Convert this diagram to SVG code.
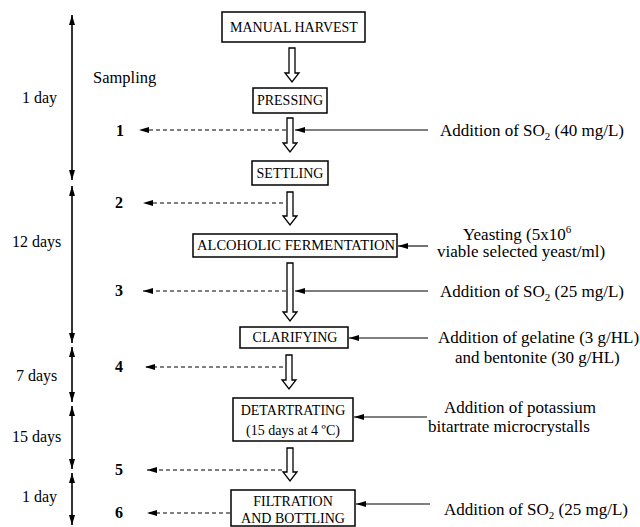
<svg xmlns="http://www.w3.org/2000/svg" width="640" height="527" viewBox="0 0 640 527" font-family="'Liberation Serif', 'DejaVu Serif', serif">
<style>
text{font-family:'Liberation Serif','DejaVu Serif',serif;fill:#000}
.lbl{font-size:16px}
.smp{font-size:16.5px}
.num{font-size:16px;font-weight:bold}
.box{fill:#fff;stroke:#000;stroke-width:1.5}
.bt{font-size:14px;text-anchor:middle}
.ba{fill:#fff;stroke:#000;stroke-width:1.3;stroke-linejoin:miter}
.tl{stroke:#000;stroke-width:1.6;fill:none}
.dash{stroke:#000;stroke-width:1;stroke-dasharray:4 3;fill:none}
.sol{stroke:#000;stroke-width:1.1;fill:none}
.rt{font-size:17px}
</style>
<defs>
<marker id="ah" viewBox="0 0 10 6" refX="10" refY="3" markerWidth="10" markerHeight="6" markerUnits="userSpaceOnUse" orient="auto">
<path d="M0,0 L10,3 L0,6 Z" fill="#000"/>
</marker>
<marker id="ta" viewBox="0 0 6 10" refX="3" refY="0" markerWidth="6" markerHeight="10" markerUnits="userSpaceOnUse" orient="0">
<path d="M0,10 L3,0 L6,10 Z" fill="#000"/>
</marker>
<marker id="tb" viewBox="0 0 6 10" refX="3" refY="10" markerWidth="6" markerHeight="10" markerUnits="userSpaceOnUse" orient="0">
<path d="M0,0 L3,10 L6,0 Z" fill="#000"/>
</marker>
</defs>

<g id="timeline">
<line class="tl" x1="72" y1="15" x2="72" y2="180" marker-start="url(#ta)" marker-end="url(#tb)"/>
<line class="tl" x1="72" y1="186" x2="72" y2="343" marker-start="url(#ta)" marker-end="url(#tb)"/>
<line class="tl" x1="72" y1="347" x2="72" y2="402" marker-start="url(#ta)" marker-end="url(#tb)"/>
<line class="tl" x1="72" y1="406" x2="72" y2="469" marker-start="url(#ta)" marker-end="url(#tb)"/>
<line class="tl" x1="72" y1="473" x2="72" y2="525" marker-start="url(#ta)" marker-end="url(#tb)"/>
<text class="lbl" x="22" y="103">1 day</text>
<text class="lbl" x="12" y="247">12 days</text>
<text class="lbl" x="16" y="381">7 days</text>
<text class="lbl" x="12" y="442">15 days</text>
<text class="lbl" x="22" y="502">1 day</text>
</g>

<g id="sampling">
<text class="smp" x="93" y="83">Sampling</text>
<text class="num" x="116" y="136">1</text>
<text class="num" x="115" y="208">2</text>
<text class="num" x="115" y="296">3</text>
<text class="num" x="115" y="372">4</text>
<text class="num" x="115" y="475">5</text>
<text class="num" x="115" y="518">6</text>
</g>

<g id="n1"><rect class="box" x="222" y="12" width="143" height="30"/><text class="bt" x="294" y="32" font-size="14.5">MANUAL HARVEST</text></g>
<g id="n2"><rect class="box" x="253" y="88" width="74" height="25"/><text class="bt" x="290" y="105">PRESSING</text></g>
<g id="n3"><rect class="box" x="252" y="161" width="76" height="24"/><text class="bt" x="290" y="178">SETTLING</text></g>
<g id="n4"><rect class="box" x="193" y="234" width="204" height="23"/><text class="bt" x="296" y="250" textLength="198" lengthAdjust="spacingAndGlyphs">ALCOHOLIC FERMENTATION</text></g>
<g id="n5"><rect class="box" x="240" y="327" width="108" height="21"/><text class="bt" x="295" y="342">CLARIFYING</text></g>
<g id="n6"><rect class="box" x="233" y="398" width="120" height="43"/><text class="bt" x="293" y="415">DETARTRATING</text><text class="bt" x="293" y="435">(15 days at 4 ºC)</text></g>
<g id="n7"><rect class="box" x="231" y="490" width="124" height="36"/><text class="bt" x="293" y="506">FILTRATION</text><text class="bt" x="293" y="523">AND BOTTLING</text></g>

<g id="connectors">
<path class="ba" d="M289,48 L295,48 L295,73 L299,73 L292,82 L285,73 L289,73 Z"/>
<path class="ba" d="M287,118 L293,118 L293,143 L297,143 L290,152 L283,143 L287,143 Z"/>
<path class="ba" d="M287,192 L293,192 L293,216 L297,216 L290,225 L283,216 L287,216 Z"/>
<path class="ba" d="M287,263 L293,263 L293,312 L297,312 L290,321 L283,312 L287,312 Z"/>
<path class="ba" d="M286,355 L292,355 L292,380 L296,380 L289,389 L282,380 L286,380 Z"/>
<path class="ba" d="M287,448 L293,448 L293,472 L297,472 L290,481 L283,472 L287,472 Z"/>

<line class="dash" x1="286" y1="130" x2="139" y2="130" marker-end="url(#ah)"/>
<line class="dash" x1="283" y1="203" x2="143" y2="203" marker-end="url(#ah)"/>
<line class="dash" x1="286" y1="291" x2="143" y2="291" marker-end="url(#ah)"/>
<line class="dash" x1="283" y1="367" x2="145" y2="367" marker-end="url(#ah)"/>
<line class="dash" x1="282" y1="470" x2="147" y2="470" marker-end="url(#ah)"/>
<line class="dash" x1="230" y1="513" x2="147" y2="513" marker-end="url(#ah)"/>

<line class="sol" x1="428" y1="130" x2="295" y2="130" marker-end="url(#ah)"/>
<line class="sol" x1="428" y1="246" x2="398" y2="246" marker-end="url(#ah)"/>
<line class="sol" x1="428" y1="291" x2="295" y2="291" marker-end="url(#ah)"/>
<line class="sol" x1="428" y1="338" x2="349" y2="338" marker-end="url(#ah)"/>
<line class="sol" x1="427" y1="417" x2="354" y2="417" marker-end="url(#ah)"/>
<line class="sol" x1="430" y1="504" x2="356" y2="504" marker-end="url(#ah)"/>
</g>

<g id="additions">
<text class="rt" x="440" y="136">Addition of SO<tspan font-size="11" dy="4">2</tspan><tspan dy="-4"> (40 mg/L)</tspan></text>
<text class="rt" x="463" y="240">Yeasting (5x10<tspan font-size="11" dy="-7">6</tspan></text>
<text class="rt" x="437" y="257">viable selected yeast/ml)</text>
<text class="rt" x="440" y="297">Addition of SO<tspan font-size="11" dy="4">2</tspan><tspan dy="-4"> (25 mg/L)</tspan></text>
<text class="rt" x="438" y="343">Addition of gelatine (3 g/HL)</text>
<text class="rt" x="455" y="363">and bentonite (30 g/HL)</text>
<text class="rt" x="444" y="413">Addition of potassium</text>
<text class="rt" x="428" y="432">bitartrate microcrystalls</text>
<text class="rt" x="444" y="515">Addition of SO<tspan font-size="11" dy="4">2</tspan><tspan dy="-4"> (25 mg/L)</tspan></text>
</g>
</svg>
